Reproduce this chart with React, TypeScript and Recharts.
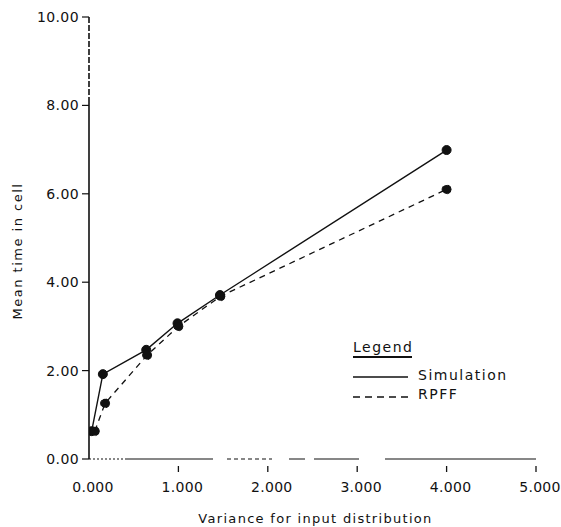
import React from "react";
import { LineChart, Line, XAxis, YAxis } from "recharts";

// Variance for input distribution (x) and mean time in cell (y)
const simX = [30, 155, 640, 990, 1465, 4000];
const simY = [0.63, 1.92, 2.47, 3.07, 3.71, 6.99];
const rpffX = [65, 180, 650, 1000, 1470, 4000];
const rpffY = [0.63, 1.26, 2.35, 3.0, 3.68, 6.1];

const xTicks = [0, 1000, 2000, 3000, 4000, 5000];
const yTicks = [0, 2, 4, 6, 8, 10];

const simData = simX.map((x, i) => ({ x, y: simY[i] }));
const rpffData = rpffX.map((x, i) => ({ x, y: rpffY[i] }));

const FONT = "'DejaVu Sans', sans-serif";

const XTick = (props: any) => {
  const { x, y, payload } = props;
  const label = (payload.value / 1000).toFixed(3);
  return (
    <g>
      {payload.value !== 0 && (
        <line x1={x} x2={x} y1={y - 1} y2={y + 5} stroke="#111" strokeWidth={1.3} />
      )}
      <text
        x={x + 4}
        y={y + 25}
        textAnchor="middle"
        fontFamily={FONT}
        fontSize={14}
        letterSpacing={0.3}
        fill="#111"
      >
        {label}
      </text>
    </g>
  );
};

const LegendBox = () => (
  <svg width={180} height={80} style={{ display: "block" }}>
    <text x={3} y={22} fontFamily={FONT} fontSize={14} letterSpacing={1.5} fill="#111">
      Legend
    </text>
    <line x1={3} x2={62} y1={27} y2={27} stroke="#111" strokeWidth={2} />
    <line x1={3} x2={58} y1={47} y2={47} stroke="#111" strokeWidth={1.3} />
    <text x={68} y={50} fontFamily={FONT} fontSize={14} letterSpacing={1.5} fill="#111">
      Simulation
    </text>
    <line x1={3} x2={60} y1={67} y2={67} stroke="#111" strokeWidth={1.3} strokeDasharray="7 5" />
    <text x={68} y={69} fontFamily={FONT} fontSize={14} letterSpacing={1.5} fill="#111">
      RPFF
    </text>
  </svg>
);

const dotStyle = { r: 4.5, fill: "#111", stroke: "#111", strokeWidth: 1 };

export default function App() {
  return (
    <div style={{ position: "absolute", left: 0, top: 0, width: 561, height: 527, background: "#fff" }}>
      <LineChart width={561} height={527} margin={{ top: 17, right: 25, bottom: 0, left: 9 }}>
        <XAxis
          type="number"
          dataKey="x"
          domain={[0, 5000]}
          ticks={xTicks}
          allowDataOverflow
          interval={0}
          height={68}
          tickLine={false}
          tick={<XTick />}
          axisLine={{
            stroke: "#111",
            strokeWidth: 1.2,
            strokeDasharray:
              "2 2 2 2 2 2 2 2 2 2 2 2 2 2 2 2 2 2 88 14 4 3 4 3 4 3 4 3 4 3 4 3 3 17 16 9 45 26 160 10",
          }}
          label={{
            value: "Variance for input distribution",
            position: "insideBottom",
            offset: 4,
            dx: 3,
            fontFamily: FONT,
            fontSize: 13,
            letterSpacing: 1.3,
            fill: "#111",
          }}
        />
        <YAxis
          type="number"
          domain={[0, 10]}
          ticks={yTicks}
          interval={0}
          width={80}
          tickSize={7}
          tickMargin={3}
          tickFormatter={(v: number) => v.toFixed(2)}
          tick={{ fontFamily: FONT, fontSize: 14, fill: "#111", letterSpacing: 0.4 }}
          tickLine={{ stroke: "#111", strokeWidth: 1.2 }}
          axisLine={{
            stroke: "#111",
            strokeWidth: 1.6,
            strokeDasharray: "6 2 6 2 6 2 6 2 6 2 6 2 6 2 6 2 6 2 6 2 600 0",
          }}
          label={{
            content: () => (
              <text
                x={17}
                y={251}
                transform="rotate(-90, 17, 251)"
                textAnchor="middle"
                dominantBaseline="central"
                fontFamily={FONT}
                fontSize={13}
                letterSpacing={1.5}
                fill="#111"
              >
                Mean time in cell
              </text>
            ),
          }}
        />
        <Line
          data={simData}
          dataKey="y"
          name="Simulation"
          stroke="#111"
          strokeWidth={1.4}
          dot={dotStyle}
          activeDot={false}
          isAnimationActive={false}
        />
        <Line
          data={rpffData}
          dataKey="y"
          name="RPFF"
          stroke="#111"
          strokeWidth={1.3}
          strokeDasharray="6 5"
          dot={dotStyle}
          activeDot={false}
          isAnimationActive={false}
        />
      </LineChart>
      <div style={{ position: "absolute", left: 350, top: 330 }}>
        <LegendBox />
      </div>
    </div>
  );
}
